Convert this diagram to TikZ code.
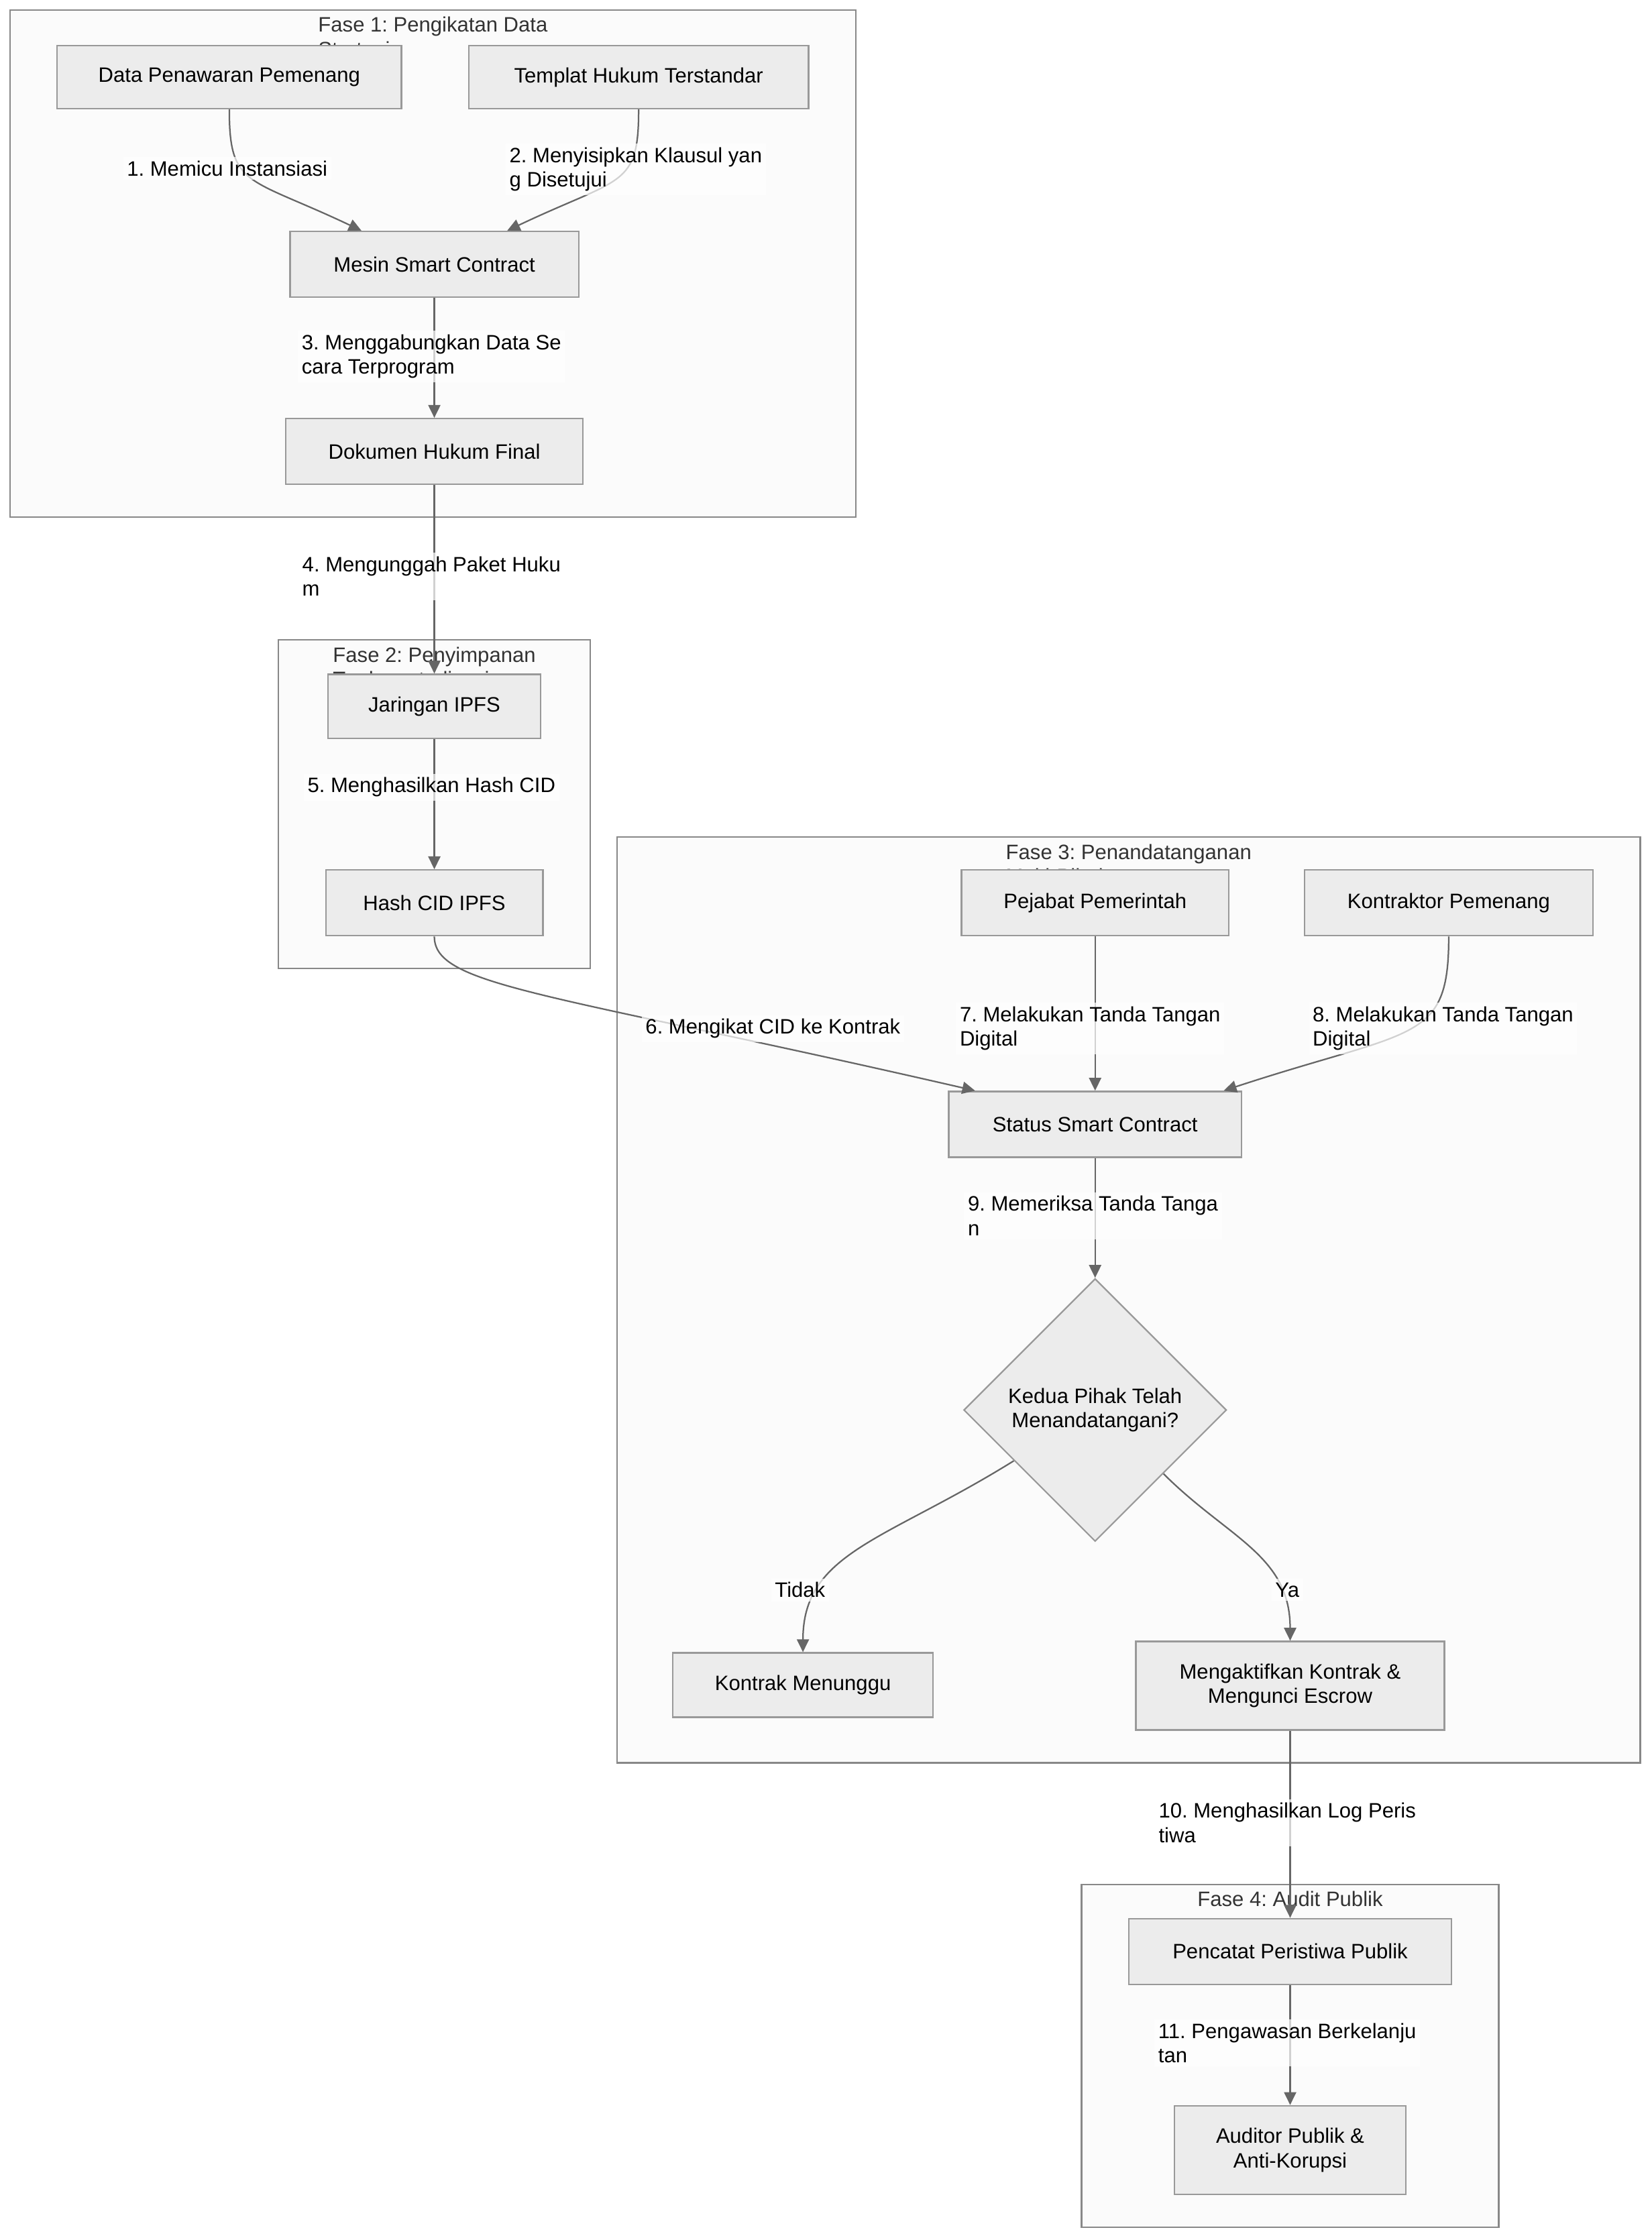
\documentclass[tikz,border=0pt]{standalone}
\usepackage{fontspec}
\setmainfont{Liberation Sans}
\usetikzlibrary{shapes.geometric,arrows.meta,calc}
\definecolor{nodefill}{HTML}{ECECEC}
\definecolor{nodeline}{HTML}{999999}
\definecolor{phasefill}{HTML}{FBFBFB}
\definecolor{phaseline}{HTML}{888888}
\definecolor{edgeline}{HTML}{666666}
\definecolor{titletext}{HTML}{333333}
\frenchspacing
\begin{document}
\begin{tikzpicture}
[x=0.02cm, y=-0.02cm, font=\fontsize{8.3}{9.7}\selectfont,
       box/.style={draw=nodeline, fill=nodefill, line width=0.6pt, minimum height=0.92cm, inner sep=2pt, align=center},
       decision/.style={diamond, draw=nodeline, fill=nodefill, line width=0.6pt, minimum width=3.68cm, minimum height=3.68cm, inner sep=1pt, align=center},
       phase/.style={draw=phaseline, fill=phasefill, line width=0.6pt},
       phasetitle/.style={text=titletext, align=left, anchor=north, inner sep=0pt},
       flow/.style={draw=edgeline, line width=0.6pt, -{Triangle[length=0.18cm,width=0.17cm]}},
       lbl/.style={fill=white, fill opacity=0.7, text opacity=1, align=left, inner sep=1.5pt}]
  \path[use as bounding box, fill=white] (0,0) rectangle (1156,1568);
  % phases
  \draw[phase] (7,7) rectangle (599,362);
  \draw[phase] (195,448) rectangle (413,678);
  \draw[phase] (432,586) rectangle (1148,1234);
  \draw[phase] (757,1319) rectangle (1049,1559);
  \begin{scope}
    \clip (7,7) rectangle (599,32);
    \node[phasetitle] (title1) at (303,11.5) {Fase 1: Pengikatan Data\\Strategis};
  \end{scope}
  \begin{scope}
    \clip (195,448) rectangle (413,472);
    \node[phasetitle] (title2) at (304,452.5) {Fase 2: Penyimpanan\\Terdesentralisasi};
  \end{scope}
  \begin{scope}
    \clip (432,586) rectangle (1148,609);
    \node[phasetitle] (title3) at (790,590.5) {Fase 3: Penandatanganan\\Multi-Pihak};
  \end{scope}
  \node[phasetitle] (title4) at (903,1323.5) {Fase 4: Audit Publik};
  % nodes
  \node[box, minimum width=4.82cm, minimum height=0.88cm] (bid) at (160.5,54) {Data Penawaran Pemenang};
  \node[box, minimum width=4.76cm, minimum height=0.88cm] (templat) at (447,54) {Templat Hukum Terstandar};
  \node[box, minimum width=4.04cm] (engine) at (304,185) {Mesin Smart Contract};
  \node[box, minimum width=4.16cm] (final) at (304,316) {Dokumen Hukum Final};
  \node[box, minimum width=2.98cm, minimum height=0.9cm] (ipfs) at (304,494.5) {Jaringan IPFS};
  \node[box, minimum width=3.04cm] (cid) at (304,632) {Hash CID IPFS};
  \node[box, minimum width=3.74cm] (pejabat) at (766.5,632) {Pejabat Pemerintah};
  \node[box, minimum width=4.04cm] (kontraktor) at (1014,632) {Kontraktor Pemenang};
  \node[box, minimum width=4.10cm] (status) at (766.5,787) {Status Smart Contract};
  \node[decision] (dec) at (766.5,987) {Kedua Pihak Telah\\Menandatangani?};
  \node[box, minimum width=3.64cm, minimum height=0.9cm] (wait) at (562,1179.5) {Kontrak Menunggu};
  \node[box, minimum width=4.32cm, minimum height=1.24cm] (act) at (903,1180) {Mengaktifkan Kontrak \&\\Mengunci Escrow};
  \node[box, minimum width=4.52cm] (logger) at (903,1366) {Pencatat Peristiwa Publik};
  \node[box, minimum width=3.24cm, minimum height=1.24cm] (auditor) at (903,1505) {Auditor Publik \&\\Anti-Korupsi};
  % connectors
  \draw[flow] (bid.south) .. controls +(0,55) and +(-80,-38) .. ($(engine.north)+(-51,0)$);
  \draw[flow] (templat.south) .. controls +(0,55) and +(80,-38) .. ($(engine.north)+(51,0)$);
  \draw[flow] (engine) -- (final);
  \draw[flow] (final) -- (ipfs);
  \draw[flow] (ipfs) -- (cid);
  \draw[flow] (cid.south) .. controls +(0,35) and +(-300,-69) .. ($(status.north)+(-84,0)$);
  \draw[flow] (pejabat) -- (status);
  \draw[flow] (kontraktor.south) .. controls +(0,75) and +(134,-44) .. ($(status.north)+(90,0)$);
  \draw[flow] (status) -- (dec);
  \draw[flow] (dec.212) .. controls +(-90,56) and +(0,-70) .. (wait.north);
  \draw[flow] (dec.-43) .. controls +(45,45) and +(0,-60) .. (act.north);
  \draw[flow] (act) -- (logger);
  \draw[flow] (logger) -- (auditor);
  % labels
  \node[lbl] (l1) at (159,118) {1. Memicu Instansiasi};
  \node[lbl] (l2) at (445,118.5) {2. Menyisipkan Klausul yan\\g Disetujui};
  \node[lbl] (l3) at (302,249.5) {3. Menggabungkan Data Se\\cara Terprogram};
  \node[lbl] (l4) at (302,403.5) {4. Mengunggah Paket Huku\\m};
  \node[lbl] (l5) at (302,551) {5. Menghasilkan Hash CID};
  \node[lbl] (l6) at (541,720) {6. Mengikat CID ke Kontrak};
  \node[lbl] (l7) at (763,720) {7. Melakukan Tanda Tangan\\Digital};
  \node[lbl] (l8) at (1010,720) {8. Melakukan Tanda Tangan\\Digital};
  \node[lbl] (l9) at (765,851) {9. Memeriksa Tanda Tanga\\n};
  \node[lbl] (lno) at (560,1113) {Tidak};
  \node[lbl] (lyes) at (901,1113) {Ya};
  \node[lbl] (l10) at (901,1276) {10. Menghasilkan Log Peris\\tiwa};
  \node[lbl] (l11) at (901,1430) {11. Pengawasan Berkelanju\\tan};
\end{tikzpicture}
\end{document}
